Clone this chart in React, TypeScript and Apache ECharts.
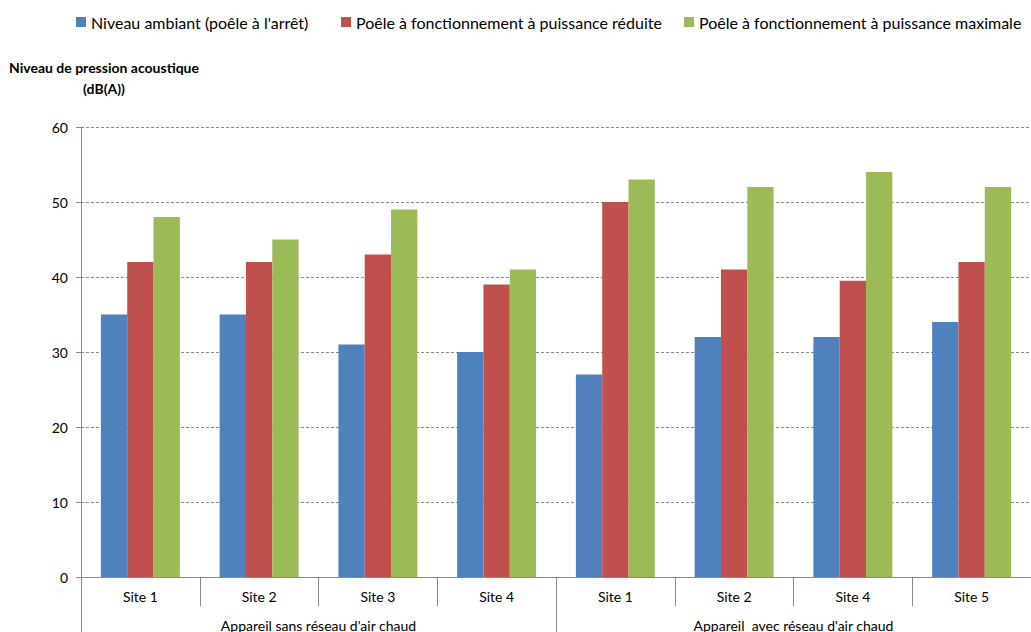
import React, { useEffect, useRef } from "react";
import * as echarts from "echarts";

const sites = ["Site 1", "Site 2", "Site 3", "Site 4", "Site 1", "Site 2", "Site 4", "Site 5"];
const groups = ["Appareil sans réseau d'air chaud", "Appareil  avec réseau d'air chaud"];
const seriesNames = [
  "Niveau ambiant (poêle à l'arrêt)",
  "Poêle à fonctionnement à puissance réduite",
  "Poêle à fonctionnement à puissance maximale",
];
const ambiant = [35, 35, 31, 30, 27, 32, 32, 34];
const reduite = [42, 42, 43, 39, 50, 41, 39.5, 42];
const maximale = [48, 45, 49, 41, 53, 52, 54, 52];
const colors = ["#4F81BD", "#C0504D", "#9BBB59"];
const legendLefts = [76, 341, 684];

const FONT = "Lato, 'Noto Sans', sans-serif";
const AXIS = "#8a8a8a";

export default function App() {
  const ref = useRef<HTMLDivElement>(null);
  useEffect(() => {
    if (!ref.current) return;
    const chart = echarts.init(ref.current, undefined, { renderer: "svg" });
    const values = [ambiant, reduite, maximale];
    chart.setOption({
      animation: false,
      textStyle: { fontFamily: FONT },
      legend: seriesNames.map((name, i) => ({
        left: legendLefts[i],
        top: 14,
        itemWidth: 10,
        itemHeight: 10,
        itemGap: 0,
        icon: "rect",
        padding: 0,
        textStyle: { fontSize: 16, color: "#000", fontFamily: FONT },
        data: [name],
      })),
      graphic: [
        {
          type: "text",
          x: 104,
          y: 67,
          style: {
            text: "Niveau de pression acoustique",
            fontSize: 14,
            fontWeight: "bold",
            fill: "#000",
            fontFamily: FONT,
            align: "center",
            verticalAlign: "middle",
          },
        },
        {
          type: "text",
          x: 104,
          y: 88,
          style: {
            text: "(dB(A))",
            fontSize: 14,
            fontWeight: "bold",
            fill: "#000",
            fontFamily: FONT,
            align: "center",
            verticalAlign: "middle",
          },
        },
      ],
      grid: { left: 81, top: 127, width: 957, height: 452, containLabel: false },
      xAxis: [
        {
          type: "category",
          data: sites,
          position: "bottom",
          axisLine: { show: true, lineStyle: { color: AXIS, width: 1 } },
          axisTick: { show: true, interval: 0, length: 29, lineStyle: { color: AXIS } },
          axisLabel: { interval: 0, margin: 12, fontSize: 14, color: "#000", fontFamily: FONT },
        },
        {
          type: "category",
          data: groups,
          position: "bottom",
          axisLine: { show: false },
          axisTick: { show: true, interval: 0, length: 80, lineStyle: { color: AXIS } },
          axisLabel: { interval: 0, margin: 41, fontSize: 14, color: "#000", fontFamily: FONT },
        },
      ],
      yAxis: {
        type: "value",
        min: 0,
        max: 60,
        interval: 10,
        axisLine: { show: true, lineStyle: { color: AXIS } },
        axisTick: { show: true, length: 5, lineStyle: { color: AXIS } },
        axisLabel: { margin: 13, fontSize: 14, color: "#000", fontFamily: FONT },
        splitLine: { show: true, lineStyle: { color: AXIS, type: [3, 2] } },
      },
      series: seriesNames.map((name, i) => ({
        name,
        type: "bar",
        data: values[i],
        barGap: "0%",
        barCategoryGap: "33.5%",
        itemStyle: { color: colors[i] },
      })),
    });
    return () => chart.dispose();
  }, []);
  return (
    <div
      ref={ref}
      style={{ position: "absolute", left: 0, top: 0, width: 1031, height: 632, background: "#fff" }}
    />
  );
}
